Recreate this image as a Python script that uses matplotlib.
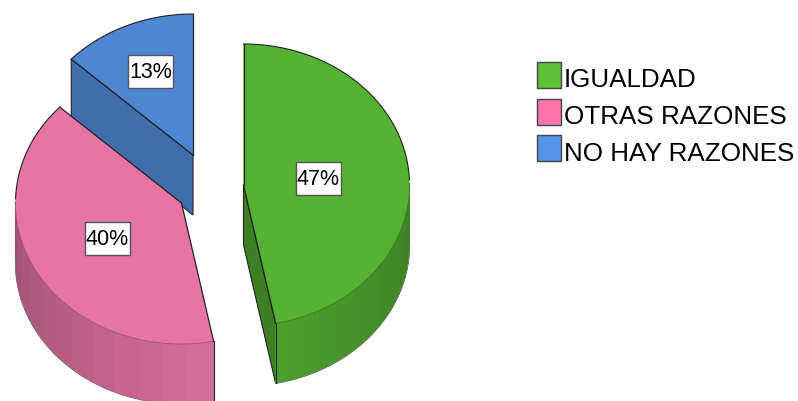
import numpy as np
import matplotlib
matplotlib.use('Agg')
import matplotlib.pyplot as plt
from matplotlib.colors import to_rgb
from matplotlib.patches import Polygon, Rectangle

categories = ['IGUALDAD', 'OTRAS RAZONES', 'NO HAY RAZONES']
values = [46.9, 40.0, 13.1]
labels = ['47%', '40%', '13%']
colors_top = ['#55b132', '#e675a5', '#4e86d2']
colors_legend = ['#5dc236', '#ff73ad', '#5595e8']

plt.rcParams['font.family'] = ['Liberation Sans', 'DejaVu Sans']

fig = plt.figure(figsize=(7.98, 4.01), dpi=100)
ax = fig.add_axes([0, 0, 1, 1])
ax.set_xlim(0, 798)
ax.set_ylim(401, 0)
ax.axis('off')

# centro de cada sector (explotado) en pixeles
centers = [(243.5, 185), (181.5, 203), (193, 155)]
label_pos = [(318, 178.5), (107.5, 238.5), (150.5, 71.5)]
rx, ry, depth = 166, 141, 60
edge = '#222222'


def pt(c, ang, dz=0):
    a = np.radians(ang)
    return c[0] + rx * np.cos(a), c[1] - ry * np.sin(a) + dz


def shade(col, f):
    return tuple(v * f for v in to_rgb(col))


# angulos a partir de los valores, sentido horario desde arriba
ends = 90 - np.cumsum(values) * 3.6
starts = np.r_[90, ends[:-1]]

# orden de dibujo: azul, rosa, verde
for i in [2, 1, 0]:
    c = centers[i]
    col = colors_top[i]
    a0, a1 = starts[i], ends[i]
    z = 10 - i * 3
    angs = np.linspace(a0, a1, 120)

    # cara del corte
    if i == 0:
        p = pt(c, a1)
        ax.add_patch(Polygon([c, p, (p[0], p[1] + depth), (c[0], c[1] + depth)],
                             fc=shade(col, 0.72), ec=edge, lw=0.8, zorder=z))
    if i == 2:
        p = pt(c, a0)
        ax.add_patch(Polygon([c, p, (p[0], p[1] + depth), (c[0], c[1] + depth)],
                             fc=shade(col, 0.82), ec=edge, lw=0.8, zorder=z))

    # pared curva, en bandas con sombra segun el angulo
    front = np.sin(np.radians(angs)) < 0.02
    wall = angs[front]
    if len(wall):
        bands = np.array_split(np.arange(len(wall)), 12)
        for j, b in enumerate(bands):
            t = j / 11
            # verde: oscuro a la derecha, claro abajo; rosa: claro abajo, oscuro a la izquierda
            f = 0.92 - 0.22 * t if i == 1 else 0.72 + 0.18 * t
            idx = np.r_[b, min(b[-1] + 1, len(wall) - 1)]
            arc = [pt(c, a) for a in wall[idx]]
            low = [pt(c, a, depth) for a in wall[idx][::-1]]
            ax.add_patch(Polygon(arc + low, fc=shade(col, f), ec=shade(col, f), lw=0.8, zorder=z))
        xs = [pt(c, a)[0] for a in wall]
        ys = [pt(c, a, depth)[1] for a in wall]
        ax.plot(xs, ys, color='#777777', lw=0.5, zorder=z + 0.2)
        x, y = pt(c, wall[-1] if i == 0 else wall[0])
        ax.plot([x, x], [y, y + depth], color=edge, lw=0.8, zorder=z + 0.2)

    # cara superior: borde oscuro atras y en los cortes, suave al frente
    verts = [c] + [pt(c, a) for a in angs]
    ax.add_patch(Polygon(verts, fc=col, ec='none', zorder=z + 1))
    xy = np.array([pt(c, a) for a in angs])
    back = ~front
    if back.any():
        ax.plot(xy[back, 0], xy[back, 1], color=edge, lw=0.8, zorder=z + 1.1)
    if front.any():
        ax.plot(xy[front, 0], xy[front, 1], color=shade(col, 0.7), lw=0.6, zorder=z + 1.1)
    for a in (a0, a1):
        x, y = pt(c, a)
        ax.plot([c[0], x], [c[1], y], color=edge, lw=0.9, zorder=z + 1.1)

    # etiqueta con caja
    lx, ly = label_pos[i]
    ax.add_patch(Rectangle((lx - 22.5, ly - 16.5), 45, 33, fc='white', ec='#555555', lw=1, zorder=20))
    ax.text(lx, ly + 1, labels[i], fontsize=15.5, color='black',
            ha='center', va='center', zorder=21)

# leyenda
legend_y = [75, 111.5, 147.5]
legend_text_y = [80, 117, 154]
for i, name in enumerate(categories):
    ax.add_patch(Rectangle((537, legend_y[i] - 13), 24, 26, fc=colors_legend[i], ec='#444444', lw=1))
    ax.text(564, legend_text_y[i], name, fontsize=18.7, color='black', ha='left', va='center')

plt.savefig('out.png', dpi=100)
